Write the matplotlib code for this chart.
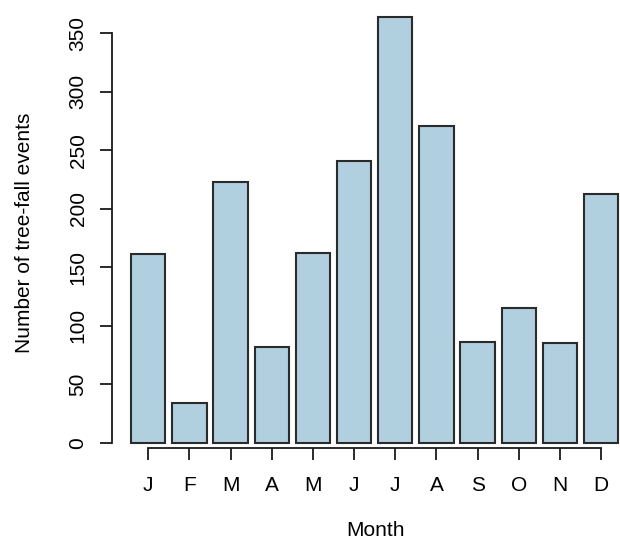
import matplotlib
matplotlib.use('Agg')
import matplotlib.pyplot as plt
import numpy as np

# monthly tree-fall counts
months = ['J', 'F', 'M', 'A', 'M', 'J', 'J', 'A', 'S', 'O', 'N', 'D']
counts = [161, 34, 223, 82, 162, 241, 364, 271, 86, 115, 85, 213]
y_ticks = [0, 50, 100, 150, 200, 250, 300, 350]

plt.rcParams['font.family'] = ['Liberation Sans', 'DejaVu Sans']
plt.rcParams['font.size'] = 15

fig = plt.figure(figsize=(6.2, 5.46), dpi=100)
# axes placed by pixels (R barplot layout, plot region runs past right edge)
ax = fig.add_axes([111.7 / 620, (546 - 448.3) / 546, 526 / 620, 448.3 / 546])

# R barplot: width 1, space 0.2
x = 0.7 + 1.2 * np.arange(len(counts))
ax.bar(x, counts, width=1.0, color='#b0cfdf', edgecolor='#2b2b2b', linewidth=1.5)

ax.set_xlim(-0.368, 14.968)
ax.set_ylim(-4.79, 378.5)

for s in ['top', 'right']:
    ax.spines[s].set_visible(False)
ax.spines['left'].set_bounds(0, 350)
ax.spines['bottom'].set_bounds(x[0], x[-1])
for s in ['left', 'bottom']:
    ax.spines[s].set_linewidth(1.3)
    ax.spines[s].set_color('#1a1a1a')

ax.set_xticks(x)
ax.set_xticklabels(months, fontsize=15)
ax.set_yticks(y_ticks)
ax.set_yticklabels([str(v) for v in y_ticks], rotation=90, va='center', fontsize=15)
ax.tick_params(axis='x', length=8.9, width=1.3, pad=11, color='#1a1a1a')
ax.tick_params(axis='y', length=8.4, width=1.3, pad=9, color='#1a1a1a')

fig.text(25 / 620, 1 - 232.5 / 546, 'Number of tree-fall events', rotation=90,
         ha='center', va='center', fontsize=15)
fig.text(375 / 620, 1 - 530 / 546, 'Month', ha='center', va='center', fontsize=15)

fig.savefig('out.png', dpi=100)
